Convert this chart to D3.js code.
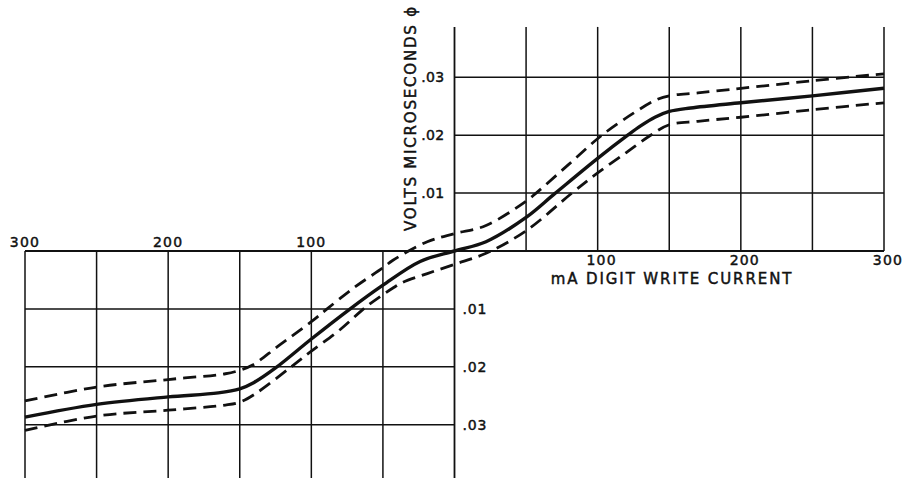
<!DOCTYPE html>
<html>
<head>
<meta charset="utf-8">
<script src="https://cdn.jsdelivr.net/npm/d3@7"></script>
<style>
  html, body { margin: 0; padding: 0; background: #fff; }
  svg { display: block; }
  text { font-family: "DejaVu Sans", sans-serif; fill: #111; stroke: #111; stroke-width: 0.45; }
</style>
</head>
<body>
<svg id="chart" width="902" height="478"></svg>
<script>
// ---- data ----
const gridX = [-300, -250, -200, -150, -100, -50, 0, 50, 100, 150, 200, 250, 300];
const gridYUpper = [0.01, 0.02, 0.03];
const gridYLower = [-0.01, -0.02, -0.03];
const labelsXLeft = [-300, -200, -100];
const labelsXRight = [100, 200, 300];
const labelsYUpper = [0.01, 0.02, 0.03];
const labelsYLower = [-0.01, -0.02, -0.03];

// solid (nominal) curve
const solidX = [-300,-250,-200,-165,-150,-140,-125,-100,-74,-50,-24,0,22,50,70,100,121,130,140,150,165,200,250,300];
const solidY = [-0.0287,-0.0265,-0.0252,-0.0245,-0.0238,-0.0227,-0.0202,-0.0152,-0.0102,-0.0059,-0.0018,0,0.0016,0.0058,0.0099,0.0160,0.0200,0.0216,0.0231,0.0241,0.0247,0.0256,0.0268,0.0281];

// upper dashed curve
const upperX = [-300,-250,-200,-160,-150,-141,-123,-100,-89,-70,-50,-43,-19,0,22,50,57,80,103,125,140,150,170,200,250,300];
const upperY = [-0.0259,-0.0235,-0.0222,-0.0212,-0.0206,-0.0197,-0.0164,-0.0122,-0.0100,-0.0063,-0.0029,-0.0016,0.0016,0.0030,0.0044,0.0086,0.0100,0.0150,0.0200,0.0238,0.0260,0.0268,0.0273,0.0281,0.0294,0.0306];

// lower dashed curve
const lowerX = [-300,-250,-200,-160,-150,-140,-114,-100,-80,-61,-43,-36,-19,0,22,50,82,100,120,137,150,170,200,250,300];
const lowerY = [-0.0310,-0.0285,-0.0275,-0.0266,-0.0261,-0.0248,-0.0200,-0.0173,-0.0136,-0.0095,-0.0064,-0.0054,-0.0039,-0.0023,-0.0004,0.0035,0.0100,0.0135,0.0170,0.0200,0.0218,0.0224,0.0231,0.0244,0.0256];

const yTop = 0.0387, yBottom = -0.0395;

// ---- scales ----
const svg = d3.select("#chart");
const x = d3.scaleLinear().domain([-300, 300]).range([25, 884]);
const y = d3.scaleLinear().domain([0, 0.03]).range([251, 77.3]);

const grid = svg.append("g").attr("stroke", "#111").attr("stroke-width", 1.5).attr("fill", "none");

// upper-right verticals
grid.selectAll(".vu").data(gridX.filter(d => d > 0)).join("line")
  .attr("x1", d => x(d)).attr("x2", d => x(d))
  .attr("y1", y(0)).attr("y2", y(yTop));
// lower-left verticals
grid.selectAll(".vl").data(gridX.filter(d => d < 0)).join("line")
  .attr("x1", d => x(d)).attr("x2", d => x(d))
  .attr("y1", y(0)).attr("y2", y(yBottom));
// y axis
grid.append("line").attr("x1", x(0)).attr("x2", x(0)).attr("y1", y(yTop)).attr("y2", y(yBottom)).attr("stroke-width", 1.8);
// horizontals
grid.selectAll(".hu").data(gridYUpper).join("line")
  .attr("x1", x(0)).attr("x2", x(300)).attr("y1", d => y(d)).attr("y2", d => y(d));
grid.selectAll(".hl").data(gridYLower).join("line")
  .attr("x1", x(-300)).attr("x2", x(0)).attr("y1", d => y(d)).attr("y2", d => y(d));
// zero line
grid.append("line").attr("x1", x(-300)).attr("x2", x(300)).attr("y1", y(0)).attr("y2", y(0)).attr("stroke-width", 2);

// ---- curves ----
const line = d3.line().x(d => x(d[0])).y(d => y(d[1])).curve(d3.curveCatmullRom.alpha(0.5));
const zip = (a, b) => a.map((v, i) => [v, b[i]]);

svg.append("path").datum(zip(upperX, upperY)).attr("d", line)
  .attr("fill", "none").attr("stroke", "#111").attr("stroke-width", 2.8).attr("stroke-dasharray", "13,7");
svg.append("path").datum(zip(lowerX, lowerY)).attr("d", line)
  .attr("fill", "none").attr("stroke", "#111").attr("stroke-width", 2.8).attr("stroke-dasharray", "13,7");
svg.append("path").datum(zip(solidX, solidY)).attr("d", line)
  .attr("fill", "none").attr("stroke", "#111").attr("stroke-width", 3.4);

// ---- labels ----
const fmtX = d => String(Math.abs(d));
const fmtY = d => "." + String(Math.round(Math.abs(d) * 100)).padStart(2, "0");

svg.selectAll(".xl").data(labelsXLeft).join("text")
  .attr("x", d => x(d)).attr("y", 247)
  .attr("text-anchor", "middle").attr("font-size", 14).attr("letter-spacing", 1.2)
  .text(fmtX);
svg.selectAll(".xr").data(labelsXRight).join("text")
  .attr("x", d => x(d) + 4).attr("y", 265)
  .attr("text-anchor", "middle").attr("font-size", 14).attr("letter-spacing", 1.2)
  .text(fmtX);
svg.selectAll(".yu").data(labelsYUpper).join("text")
  .attr("x", x(0) - 10).attr("y", d => y(d) + 5)
  .attr("text-anchor", "end").attr("font-size", 14).attr("letter-spacing", 0.3)
  .text(fmtY);
svg.selectAll(".yl").data(labelsYLower).join("text")
  .attr("x", x(0) + 8).attr("y", d => y(d) + 5)
  .attr("text-anchor", "start").attr("font-size", 14).attr("letter-spacing", 0.8)
  .text(fmtY);

svg.append("text")
  .attr("x", 672).attr("y", 284)
  .attr("text-anchor", "middle").attr("font-size", 15).attr("letter-spacing", 1.9)
  .text("mA  DIGIT  WRITE  CURRENT");

svg.append("text")
  .attr("transform", "translate(416,231) rotate(-90)")
  .attr("text-anchor", "start").attr("font-size", 15).attr("letter-spacing", 1.8)
  .text("VOLTS MICROSECONDS ϕ");
</script>
</body>
</html>
